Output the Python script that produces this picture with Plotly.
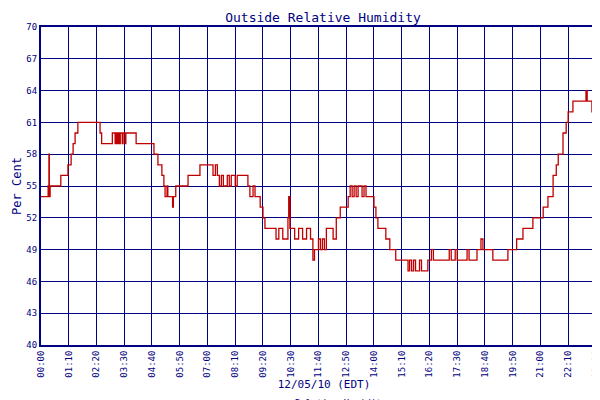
import plotly.graph_objects as go

minutes = [0,18,20,21,23,50,68,76,81,86,93,149,153,180,187,189,192,194,197,200,205,207,212,214,240,285,295,300,305,310,313,318,320,332,334,340,371,401,434,440,445,450,455,460,470,475,480,490,495,522,527,535,540,553,560,565,593,600,610,623,625,628,640,650,660,670,680,686,690,700,705,710,715,720,737,745,755,775,780,785,790,795,800,810,815,820,830,840,845,850,870,880,895,926,930,935,940,945,955,960,976,985,990,1027,1030,1035,1045,1050,1075,1080,1100,1110,1115,1140,1178,1200,1216,1241,1267,1279,1292,1300,1305,1317,1325,1330,1342,1375,1378,1390,1405,1418,1425,1428]
humidity = [54,55,58,54,55,56,57,58,59,60,61,60,59,60,59,60,59,60,59,60,59,60,59,60,59,58,57,57,56,55,54,55,54,53,54,55,56,57,56,57,56,55,56,55,56,55,56,55,56,55,54,55,54,53,52,51,50,51,50,52,54,51,50,51,50,51,50,48,49,50,49,50,49,51,50,52,53,54,55,54,55,54,55,54,55,54,54,53,52,51,50,49,48,47,48,47,48,47,48,47,48,49,48,48,49,48,49,48,49,48,49,50,49,48,49,50,51,52,53,54,56,57,58,60,61,62,63,64,63,62,61,60,59,59]

tickvals = list(range(0, 1421, 70)) + [1428]
ticktext = [f"{t//60:02d}:{t%60:02d}" for t in tickvals]
yticks = list(range(40, 71, 3))

navy = "#000080"
font = dict(family="DejaVu Sans Mono", size=10, color=navy)

fig = go.Figure(go.Scatter(x=minutes, y=humidity, mode="lines", line_shape="hv",
                           line=dict(color="#c00000", width=1.3), name="Relative Humidity"))
fig.update_layout(
    width=600, height=400, margin=dict(l=33, r=1, t=19, b=63, autoexpand=False),
    paper_bgcolor="white", plot_bgcolor="white", font=font,
    title=dict(text="Outside Relative Humidity", x=0.525, y=0.977, xanchor="center", yanchor="middle",
               automargin=False, font=dict(family="DejaVu Sans Mono", size=13, color=navy)),
    showlegend=True,
    legend=dict(orientation="h", x=0.5, xanchor="center", y=-0.18, yanchor="middle",
                font=dict(size=9, color=navy)),
)
fig.update_xaxes(range=[0, 1428], tickvals=tickvals, ticktext=ticktext, tickangle=-90,
                 automargin=False,
                 showgrid=True, gridcolor=navy, gridwidth=1, showline=True, linecolor=navy,
                 linewidth=2, mirror=True, zeroline=False, tickfont=dict(size=9, color=navy),
                 title=dict(text="12/05/10 (EDT)", font=dict(size=11, color=navy), standoff=2))
fig.update_yaxes(range=[40, 70], tickvals=yticks, showgrid=True, gridcolor=navy, gridwidth=1,
                 automargin=False,
                 showline=True, linecolor=navy, linewidth=2, mirror=True, zeroline=False,
                 tickfont=dict(size=9, color=navy),
                 title=dict(text="Per Cent", font=dict(size=12, color=navy), standoff=2))
fig.write_html("out.html")
